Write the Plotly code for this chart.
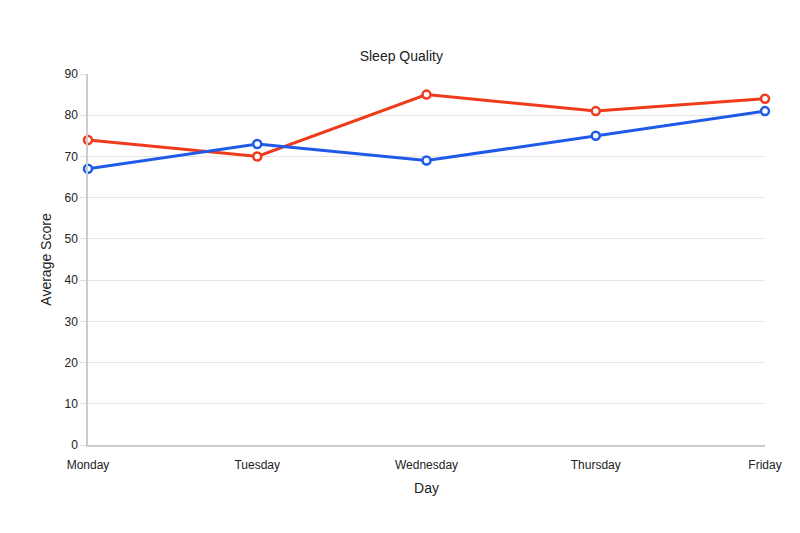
import plotly.graph_objects as go

days = ["Monday", "Tuesday", "Wednesday", "Thursday", "Friday"]
series_red = [74, 70, 85, 81, 84]
series_blue = [67, 73, 69, 75, 81]
y_ticks = [0, 10, 20, 30, 40, 50, 60, 70, 80, 90]

fig = go.Figure()
fig.add_trace(go.Scatter(
    x=days, y=series_red, mode="lines+markers", cliponaxis=False,
    line=dict(color="#f03a1c", width=3),
    marker=dict(symbol="circle", size=8, color="white", line=dict(color="#f03a1c", width=2.5)),
    showlegend=False,
))
fig.add_trace(go.Scatter(
    x=days, y=series_blue, mode="lines+markers", cliponaxis=False,
    line=dict(color="#1f5ae8", width=3),
    marker=dict(symbol="circle", size=8, color="white", line=dict(color="#1f5ae8", width=2.5)),
    showlegend=False,
))

fig.update_layout(
    width=793, height=526,
    paper_bgcolor="white", plot_bgcolor="white",
    margin=dict(l=80, r=36, t=66, b=89, autoexpand=False),
    font=dict(family="Liberation Sans, Arial, sans-serif", size=12, color="#222"),
    title=dict(text="Sleep Quality", x=0.496, xanchor="center", y=0.909, yanchor="middle",
               font=dict(size=14, color="#222")),
    xaxis=dict(
        title=dict(text="Day", font=dict(size=14), standoff=12),
        showgrid=False, showline=True, linecolor="#cccccc", linewidth=1.5,
        ticks="", tickfont=dict(size=12), range=[0, 4], ticklabelstandoff=8,
        automargin=False,
    ),
    yaxis=dict(
        title=dict(text="Average Score", font=dict(size=14), standoff=10),
        range=[0, 90], tickvals=y_ticks, showgrid=True, gridcolor="#e6e6e6",
        showline=True, linecolor="#cccccc", linewidth=1.5, zeroline=False,
        ticks="outside", ticklen=6, tickcolor="#dddddd", tickfont=dict(size=12),
        automargin=False,
    ),
)

fig.write_html("out.html")
